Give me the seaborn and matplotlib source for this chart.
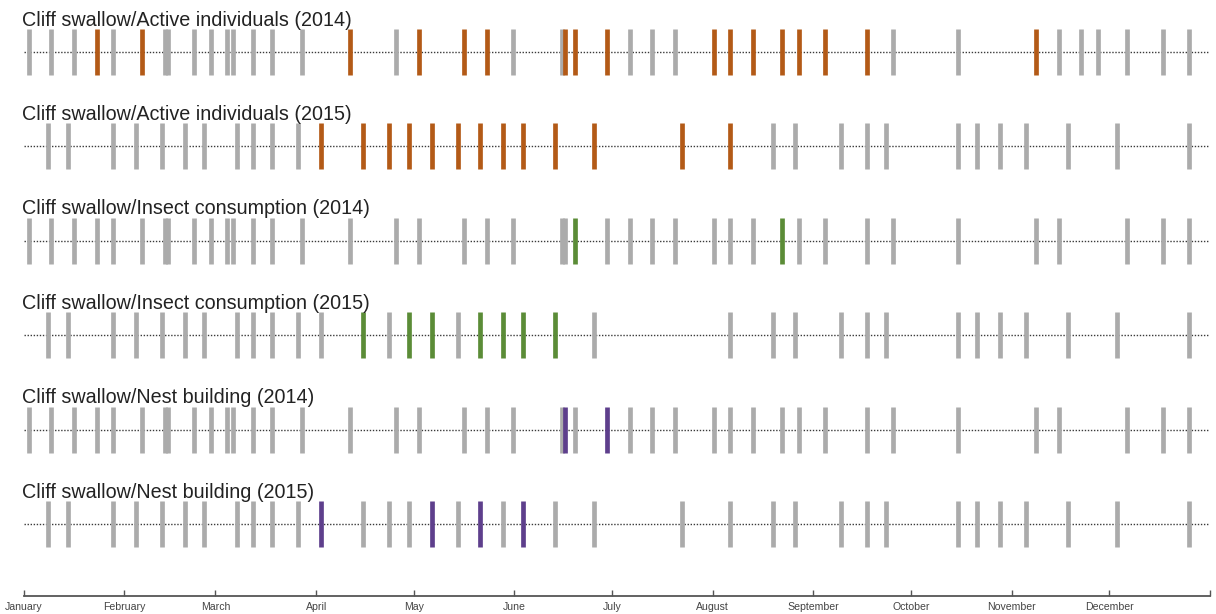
import pandas as pd
import numpy as np
import matplotlib
matplotlib.use("Agg")
import matplotlib.pyplot as plt
import seaborn as sns

# ---------------- data ----------------
survey_2014 = ["01-02", "01-09", "01-16", "01-23", "01-28", "02-06", "02-13", "02-14",
               "02-22", "02-27", "03-04", "03-06", "03-12", "03-18", "03-27", "04-11",
               "04-25", "05-02", "05-16", "05-23", "05-31", "06-15", "06-16", "06-19",
               "06-29", "07-06", "07-13", "07-20", "08-01", "08-06", "08-13", "08-22",
               "08-27", "09-04", "09-17", "09-25", "10-15", "11-08", "11-15", "11-22",
               "11-27", "12-06", "12-17", "12-25"]
survey_2015 = ["01-08", "01-14", "01-28", "02-04", "02-12", "02-19", "02-25", "03-07",
               "03-12", "03-18", "03-26", "04-02", "04-15", "04-23", "04-29", "05-06",
               "05-14", "05-21", "05-28", "06-03", "06-13", "06-25", "07-22", "08-06",
               "08-19", "08-26", "09-09", "09-17", "09-23", "10-15", "10-21", "10-28",
               "11-05", "11-18", "12-03", "12-25"]

row_titles = ["Cliff swallow/Active individuals (2014)",
              "Cliff swallow/Active individuals (2015)",
              "Cliff swallow/Insect consumption (2014)",
              "Cliff swallow/Insect consumption (2015)",
              "Cliff swallow/Nest building (2014)",
              "Cliff swallow/Nest building (2015)"]
row_years = [2014, 2015, 2014, 2015, 2014, 2015]
row_behaviour = ["Active individuals", "Active individuals", "Insect consumption",
                 "Insect consumption", "Nest building", "Nest building"]

# dates without a record for that behaviour
not_recorded = [[], [], ["11-22", "11-27"], ["07-22"], ["11-22", "11-27"], []]

# dates on which the behaviour was observed
active_2014 = ["01-23", "02-06", "04-11", "05-02", "05-16", "05-23", "06-16", "06-19",
               "06-29", "08-01", "08-06", "08-13", "08-22", "08-27", "09-04", "09-17",
               "11-08"]
active_2015 = ["04-02", "04-15", "04-23", "04-29", "05-06", "05-14", "05-21", "05-28",
               "06-03", "06-13", "06-25", "07-22", "08-06"]
insect_2014 = ["06-19", "08-22"]
insect_2015 = ["04-15", "04-29", "05-06", "05-21", "05-28", "06-03", "06-13"]
nest_2014 = ["06-16", "06-29"]
nest_2015 = ["04-02", "05-06", "05-21", "06-03"]
observed = [active_2014, active_2015, insect_2014, insect_2015, nest_2014, nest_2015]

behaviour_colors = {"Active individuals": "#B35A17",
                    "Insect consumption": "#5B8C37",
                    "Nest building": "#5E3F8C"}
survey_color = "#ABABAB"

month_labels = ["January", "February", "March", "April", "May", "June", "July",
                "August", "September", "October", "November", "December"]

# ---------------- build long table ----------------
recs = []
for i in range(len(row_titles)):
    yr = row_years[i]
    surv = survey_2014 if yr == 2014 else survey_2015
    for d in surv:
        if d in not_recorded[i]:
            continue
        ts = pd.Timestamp(f"{yr}-{d}")
        recs.append(dict(row=i, x=ts.dayofyear - 0.5,
                         status="observed" if d in observed[i] else "survey"))
df = pd.DataFrame(recs)

# ---------------- plot ----------------
sns.set_theme(style="white")
plt.rcParams["font.family"] = ["Liberation Sans", "DejaVu Sans"]

W, H = 12.16, 6.14
fig = plt.figure(figsize=(W, H), dpi=100)
left = 23.7 / 1216
right = 1209.8 / 1216
bottom = (614 - 596) / 614
ax = fig.add_axes([left, bottom, right - left, 1 - bottom])

step = (524 - 52) / 5.0
y0 = 52
ax.set_ylim((596 - y0) / step, -y0 / step)
ax.set_xlim(0, 365)

bar_len_pt = 46 * 0.72
lw_pt = 4.7 * 0.72

for i in range(len(row_titles)):
    ax.axhline(i, color="#3a3a3a", lw=1.0, ls=(0, (1, 1.2)), zorder=1)

gray = df[df.status == "survey"]
sns.scatterplot(data=gray, x="x", y="row", marker="|", s=bar_len_pt ** 2,
                color=survey_color, linewidth=lw_pt, ax=ax, zorder=2, legend=False)
for i in range(len(row_titles)):
    sub = df[(df.status == "observed") & (df.row == i)]
    sns.scatterplot(data=sub, x="x", y="row", marker="|", s=bar_len_pt ** 2,
                    color=behaviour_colors[row_behaviour[i]], linewidth=lw_pt,
                    ax=ax, zorder=3, legend=False)

for i, t in enumerate(row_titles):
    ax.text(-0.6, i - 32 / step, t, fontsize=14.2, color="#222222",
            ha="left", va="center", zorder=4)

# month axis
month_starts = [pd.Timestamp(f"2014-{m:02d}-01").dayofyear - 1 for m in range(1, 13)]
ax.set_xticks(month_starts + [365])
ax.set_xticklabels(month_labels + [""], fontsize=7.6, color="#444444")
ax.set_yticks([])
ax.set_xlabel("")
ax.set_ylabel("")
for s in ["top", "right", "left"]:
    ax.spines[s].set_visible(False)
ax.spines["bottom"].set_color("#555555")
ax.spines["bottom"].set_linewidth(1.3)
ax.tick_params(axis="x", direction="in", length=4, width=1, color="#555555",
               pad=4, bottom=True)
ax.patch.set_alpha(0)

fig.savefig("out.png", dpi=100)
